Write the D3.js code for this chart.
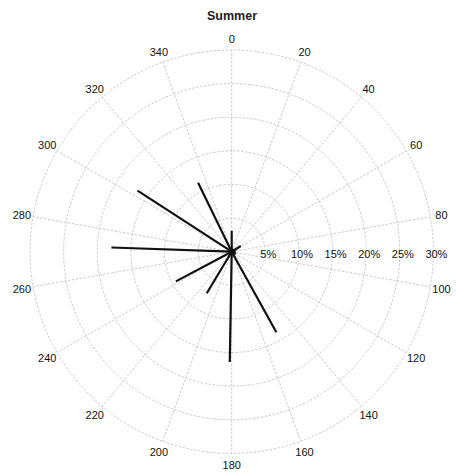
<!DOCTYPE html>
<html><head><meta charset="utf-8">
<script src="https://cdn.jsdelivr.net/npm/d3@7"></script>
<style>body{margin:0;background:#fff}svg{display:block}</style>
</head><body>
<script>
// Data: wind direction (degrees, clockwise from north) and frequency (%)
const directions = [0, 30, 58, 90, 120, 151, 181, 211, 242, 272, 303, 334];
const frequencies = [3.1, 0.5, 1.6, 0.6, 0.7, 13.7, 16.4, 7.2, 9.4, 17.9, 16.7, 11.4];
const angleTicks = [0, 20, 40, 60, 80, 100, 120, 140, 160, 180, 200, 220, 240, 260, 280, 300, 320, 340];
const radialTicks = [5, 10, 15, 20, 25, 30];
const radialTickLabels = ["5%", "10%", "15%", "20%", "25%", "30%"];
const title = "Summer";

const W = 456, H = 474, cx = 231.7, cy = 251.7, R = 201.7;
const svg = d3.select("body").append("svg").attr("width", W).attr("height", H);
const r = d3.scaleLinear().domain([0, 30]).range([0, R]);
const a = d3.scaleLinear().domain([0, 360]).range([0, 2 * Math.PI]);
const pt = (deg, rad) => [cx + rad * Math.sin(a(deg)), cy - rad * Math.cos(a(deg))];

const g = svg.append("g");
// rings
g.selectAll("circle.ring").data(radialTicks).join("circle")
  .attr("cx", cx).attr("cy", cy).attr("r", d => r(d))
  .attr("fill", "none").attr("stroke", "#bdbdbd").attr("stroke-width", 0.8)
  .attr("stroke-dasharray", "2.5,1.5");
// spokes
g.selectAll("line.spoke").data(angleTicks).join("line")
  .attr("x1", cx).attr("y1", cy)
  .attr("x2", d => pt(d, R)[0]).attr("y2", d => pt(d, R)[1])
  .attr("stroke", "#bdbdbd").attr("stroke-width", 0.8).attr("stroke-dasharray", "2.5,1.5");
// angle labels
g.selectAll("text.ang").data(angleTicks).join("text")
  .attr("x", d => pt(d, 213)[0]).attr("y", d => pt(d, 213)[1])
  .attr("text-anchor", "middle").attr("dominant-baseline", "central")
  .attr("font-family", "Liberation Sans, Arial, sans-serif").attr("font-size", 11)
  .attr("fill", "#111").text(d => d);
// radial labels
g.selectAll("text.rad").data(radialTicks).join("text")
  .attr("x", (d) => cx + r(d) + 3).attr("y", cy + 2)
  .attr("text-anchor", "middle").attr("dominant-baseline", "central")
  .attr("font-family", "Liberation Sans, Arial, sans-serif").attr("font-size", 11)
  .attr("fill", "#111").text((d, i) => radialTickLabels[i]);
// bars
g.selectAll("line.bar").data(directions).join("line")
  .attr("x1", cx).attr("y1", cy)
  .attr("x2", (d, i) => pt(d, r(frequencies[i]))[0])
  .attr("y2", (d, i) => pt(d, r(frequencies[i]))[1])
  .attr("stroke", "#111").attr("stroke-width", 2.2).attr("stroke-linecap", "butt");
// title
svg.append("text").attr("x", 232).attr("y", 20).attr("text-anchor", "middle")
  .attr("font-family", "Liberation Sans, Arial, sans-serif").attr("font-size", 12.5)
  .attr("font-weight", "bold").attr("fill", "#222").text(title);
</script>
</body></html>
